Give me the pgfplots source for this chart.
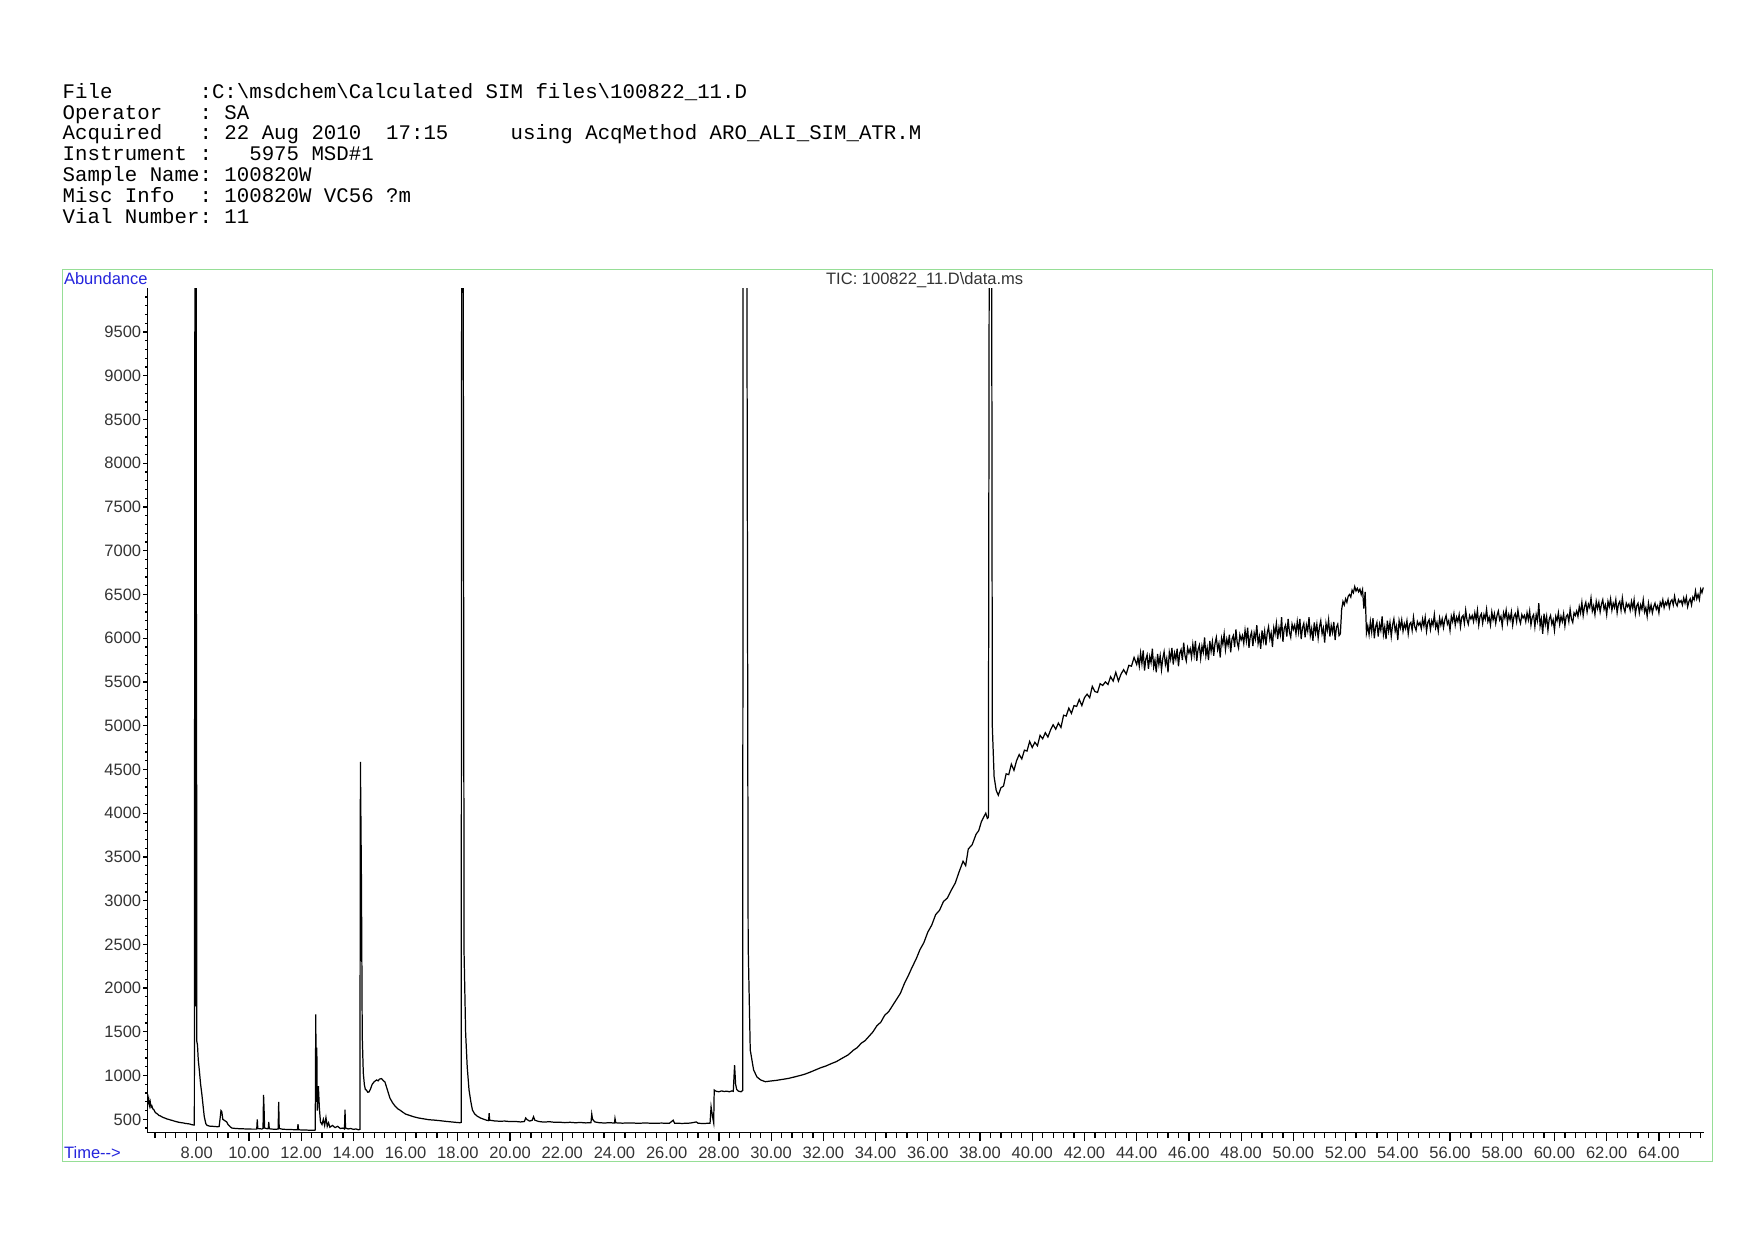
\documentclass[border=0pt]{standalone}
\usepackage{pgfplots}
\pgfplotsset{compat=1.18}
\usepackage{fontspec}
\setmainfont{Liberation Sans}
\newfontfamily\hdr{Liberation Mono}
\definecolor{frame}{RGB}{150,222,150}
\definecolor{lblue}{RGB}{35,35,220}
\begin{document}
\begin{tikzpicture}
\path[use as bounding box] (0,0) rectangle (17.54,12.40);
% header
\begin{scope}[every node/.style={anchor=base west,inner sep=0pt,font=\hdr\fontsize{5.9}{6}\selectfont}]
\node at (0.62,11.417) {File~~~~~~~:C:\textbackslash msdchem\textbackslash Calculated~SIM~files\textbackslash 100822\_11.D};
\node at (0.62,11.209) {Operator~~~:~SA};
\node at (0.62,11.000) {Acquired~~~:~22~Aug~2010~~17:15~~~~~using~AcqMethod~ARO\_ALI\_SIM\_ATR.M};
\node at (0.62,10.792) {Instrument~:~~~5975~MSD\#1};
\node at (0.62,10.584) {Sample~Name:~100820W};
\node at (0.62,10.375) {Misc~Info~~:~100820W~VC56~?m};
\node at (0.62,10.167) {Vial~Number:~11};
\end{scope}
\draw[frame, line width=0.45pt] (0.625,0.785) rectangle (17.125,9.705);
\node[anchor=base west,inner sep=0pt,text=lblue,font=\fontsize{4.7}{5}\selectfont] at (0.633,9.56) {Abundance};
\node[anchor=base,inner sep=0pt,text=black!80,font=\fontsize{4.7}{5}\selectfont] at (9.247,9.56) {TIC: 100822\_11.D\textbackslash data.ms};
\node[anchor=base west,inner sep=0pt,text=lblue,font=\fontsize{4.7}{5}\selectfont] at (0.634,0.82) {Time-{}-{}>};
\begin{axis}[
  at={(1.473cm,1.073cm)}, anchor=south west,
  scale only axis, width=15.565cm, height=8.444cm,
  xmin=6.108, xmax=65.72, ymin=347, ymax=10000,
  axis x line*=bottom, axis y line*=left,
  axis line style={-, line width=0.4pt, black},
  tick align=outside,
  major tick length=0.84mm, minor tick length=0.54mm,
  xtick={8,10,...,64},
  minor xtick={6.4,6.8,...,65.6},
  ytick={500,1000,...,9500},
  minor ytick={400,500,...,9900},
  xtick style={line width=0.35pt, black},
  ytick style={line width=0.35pt, black, /pgfplots/major tick length=0.4mm, /pgfplots/minor tick length=0.2mm},
  scaled y ticks=false, scaled x ticks=false,
  /pgf/number format/assume math mode=true,
  xticklabel style={/pgf/number format/fixed, /pgf/number format/fixed zerofill, /pgf/number format/precision=2, inner sep=1.4pt},
  yticklabel style={/pgf/number format/1000 sep={}, inner sep=0.4pt, xshift=0.44mm},
  tick label style={font=\fontsize{4.7}{5}\selectfont, text=black!80},
]
\addplot[black, line width=0.35pt] table {
t v
6.11 720
6.13 690
6.16 740
6.19 660
6.22 700
6.25 640
6.28 655
6.32 620
6.36 610
6.40 585
6.45 570
6.50 560
6.55 545
6.60 540
6.66 530
6.72 520
6.78 515
6.85 505
6.92 500
7.00 492
7.08 486
7.16 478
7.24 472
7.32 466
7.40 462
7.50 458
7.58 452
7.66 450
7.74 446
7.80 440
7.86 436
7.91 435
7.935 12000
7.955 1790
7.975 12000
7.99 5300
7.995 5250
8.005 1390
8.03 1350
8.06 1180
8.10 1063
8.15 900
8.20 780
8.25 640
8.29 530
8.35 450
8.40 430
8.50 422
8.60 420
8.70 418
8.80 415
8.86 418
8.90 520
8.93 600
8.96 590
9.00 500
9.05 490
9.10 480
9.15 470
9.20 440
9.28 415
9.35 400
9.50 395
9.70 392
9.90 390
10.10 388
10.28 388
10.30 390
10.32 500
10.34 395
10.40 392
10.50 390
10.54 395
10.56 780
10.58 620
10.60 400
10.70 392
10.74 395
10.76 470
10.78 392
10.90 388
11.05 386
11.12 390
11.14 700
11.16 395
11.30 386
11.50 384
11.70 382
11.86 380
11.88 445
11.90 380
12.10 378
12.30 376
12.50 374
12.54 378
12.56 1700
12.58 700
12.60 1320
12.62 600
12.66 880
12.70 620
12.74 470
12.80 440
12.85 500
12.90 430
12.95 520
13.00 420
13.05 460
13.10 410
13.20 430
13.30 405
13.40 420
13.50 395
13.60 400
13.66 390
13.68 610
13.70 400
13.80 390
13.90 395
14.00 385
14.10 390
14.20 380
14.25 385
14.27 4585
14.31 3200
14.34 1450
14.38 1030
14.42 900
14.46 840
14.50 835
14.55 810
14.60 812
14.66 850
14.72 900
14.80 930
14.89 950
14.95 940
15.00 960
15.08 965
15.14 945
15.21 926
15.30 840
15.40 743
15.50 690
15.60 650
15.70 620
15.78 606
15.90 580
16.00 560
16.15 545
16.30 530
16.50 515
16.70 505
16.90 495
17.06 492
17.30 485
17.50 478
17.70 472
17.90 466
18.08 461
18.13 465
18.15 12000
18.20 12000
18.24 2400
18.30 1485
18.36 1100
18.43 835
18.50 700
18.56 606
18.65 560
18.75 535
18.87 515
19.00 500
19.10 490
19.18 485
19.20 570
19.22 490
19.40 482
19.60 478
19.80 480
20.00 474
20.20 476
20.40 470
20.55 475
20.60 515
20.66 495
20.75 480
20.85 490
20.90 530
20.95 490
21.10 475
21.30 468
21.50 473
21.70 466
21.90 467
22.10 462
22.30 466
22.50 461
22.70 464
22.90 459
23.10 462
23.13 560
23.16 500
23.25 470
23.40 462
23.60 458
23.80 461
24.00 458
24.02 510
24.05 460
24.30 456
24.60 459
24.90 455
25.20 458
25.50 454
25.80 457
26.10 454
26.25 490
26.30 456
26.60 453
26.90 457
27.14 470
27.20 455
27.40 452
27.60 455
27.66 455
27.70 644
27.75 540
27.80 460
27.82 835
27.90 820
28.00 815
28.10 825
28.20 818
28.30 822
28.40 815
28.50 825
28.55 820
28.60 1120
28.64 900
28.68 843
28.75 822
28.85 815
28.91 830
28.93 12000
29.06 12000
29.12 2500
29.20 1292
29.33 1063
29.46 983
29.60 950
29.78 930
29.90 935
30.04 940
30.20 945
30.40 955
30.67 968
30.90 985
31.10 1000
31.31 1018
31.50 1040
31.70 1065
31.90 1090
32.10 1110
32.33 1140
32.50 1160
32.70 1195
32.94 1235
33.00 1250
33.15 1290
33.30 1320
33.45 1370
33.60 1400
33.75 1450
33.90 1500
34.05 1570
34.20 1610
34.35 1690
34.50 1730
34.65 1800
34.80 1870
34.95 1940
35.10 2050
35.25 2140
35.40 2240
35.55 2330
35.70 2440
35.85 2520
36.00 2640
36.15 2720
36.30 2840
36.45 2890
36.60 2990
36.75 3030
36.90 3120
37.05 3200
37.20 3330
37.35 3450
37.45 3400
37.55 3590
37.70 3640
37.85 3760
37.95 3800
38.05 3900
38.15 3960
38.22 4000
38.28 3940
38.32 3950
38.36 12000
38.44 12000
38.47 5000
38.54 4415
38.62 4260
38.70 4205
38.8 4290
38.9 4310
39.0 4450
39.1 4440
39.2 4560
39.3 4490
39.4 4600
39.5 4670
39.6 4620
39.7 4720
39.8 4710
39.9 4820
40.0 4750
40.1 4810
40.2 4770
40.3 4890
40.4 4850
40.5 4920
40.6 4870
40.7 4950
40.8 5010
40.9 4960
41.0 5030
41.1 4980
41.2 5120
41.3 5110
41.4 5200
41.5 5140
41.6 5230
41.7 5220
41.8 5300
41.9 5230
42.0 5320
42.1 5360
42.2 5320
42.3 5450
42.4 5390
42.5 5380
42.6 5480
42.7 5460
42.8 5500
42.9 5470
43.0 5560
43.1 5510
43.2 5610
43.3 5510
43.4 5590
43.5 5640
43.6 5590
43.7 5690
43.8 5680
43.9 5780
44.0 5700
44.05 5780
44.10 5680
44.15 5830
44.20 5710
44.25 5860
44.30 5630
44.35 5760
44.40 5810
44.45 5650
44.50 5790
44.55 5720
44.60 5880
44.65 5670
44.70 5750
44.75 5610
44.80 5820
44.85 5700
44.90 5800
44.95 5640
45.00 5770
45.05 5845
45.10 5700
45.15 5770
45.20 5610
45.25 5840
45.30 5760
45.35 5890
45.40 5700
45.45 5830
45.50 5760
45.55 5880
45.60 5680
45.65 5830
45.70 5870
45.75 5750
45.80 5950
45.85 5800
45.90 5740
45.95 5890
46.00 5830
46.05 5880
46.10 5780
46.15 5930
46.20 5810
46.25 5970
46.30 5740
46.35 5870
46.40 5920
46.45 5770
46.50 5910
46.55 5840
46.60 6010
46.65 5800
46.70 5890
46.75 5750
46.80 5970
46.85 5850
46.90 5960
46.95 5800
47.00 5940
47.05 6010
47.10 5870
47.15 5940
47.20 5780
47.25 6000
47.30 5930
47.35 6050
47.40 5870
47.45 5990
47.50 5920
47.55 6040
47.60 5840
47.65 5990
47.70 6030
47.75 5900
47.80 6100
47.85 5950
47.90 5890
47.95 6040
48.00 5980
48.05 6030
48.10 5940
48.15 6090
48.20 5970
48.25 6120
48.30 5890
48.35 6020
48.40 6070
48.45 5910
48.50 6060
48.55 5990
48.60 6150
48.65 5940
48.70 6020
48.75 5880
48.80 6090
48.85 5970
48.90 6080
48.95 5920
49.00 6060
49.05 6130
49.10 5990
49.15 6060
49.20 5900
49.25 6120
49.30 6050
49.35 6170
49.40 5990
49.45 6120
49.50 6040
49.55 6240
49.60 5960
49.65 6110
49.70 6150
49.75 6020
49.80 6220
49.85 6070
49.90 6010
49.95 6160
50.00 6100
50.05 6150
50.10 6050
50.15 6190
50.20 6070
50.25 6220
50.30 5990
50.35 6120
50.40 6170
50.45 6010
50.50 6150
50.55 6080
50.60 6240
50.65 6030
50.70 6110
50.75 5970
50.80 6180
50.85 6060
50.90 6160
50.95 6000
51.00 6130
51.05 6200
51.10 6050
51.15 6115
51.20 5950
51.25 6170
51.30 6090
51.35 6210
51.40 6020
51.45 6145
51.50 6065
51.55 6185
51.60 5980
51.65 6125
51.70 6160
51.75 6030
51.80 6050
51.85 6330
51.90 6420
51.95 6380
52.00 6450
52.05 6410
52.10 6480
52.15 6500
52.20 6470
52.25 6550
52.30 6520
52.35 6590
52.40 6540
52.45 6570
52.50 6530
52.55 6560
52.60 6500
52.65 6555
52.70 6340
52.75 6530
52.80 6060
52.85 6140
52.90 6040
52.95 6190
53.00 6070
53.05 6230
53.10 6000
53.15 6130
53.20 6180
53.25 6020
53.30 6160
53.35 6090
53.40 6250
53.45 6040
53.50 6130
53.55 5990
53.60 6200
53.65 6080
53.70 6180
53.75 6020
53.80 6150
53.85 6220
53.90 6080
53.95 6140
54.00 5980
54.05 6200
54.10 6120
54.15 6210
54.20 6080
54.25 6165
54.30 6110
54.35 6200
54.40 6050
54.45 6160
54.50 6180
54.55 6090
54.60 6240
54.65 6130
54.70 6090
54.75 6190
54.80 6150
54.85 6180
54.90 6110
54.95 6220
55.00 6140
55.05 6240
55.10 6080
55.15 6180
55.20 6210
55.25 6100
55.30 6200
55.35 6150
55.40 6270
55.45 6120
55.50 6180
55.55 6080
55.60 6230
55.65 6150
55.70 6220
55.75 6120
55.80 6210
55.85 6260
55.90 6160
55.95 6200
56.00 6090
56.05 6250
56.10 6190
56.15 6280
56.20 6150
56.25 6240
56.30 6190
56.35 6270
56.40 6130
56.45 6240
56.50 6260
56.55 6170
56.60 6320
56.65 6210
56.70 6160
56.75 6260
56.80 6220
56.85 6260
56.90 6190
56.95 6290
57.00 6210
57.05 6320
57.10 6150
57.15 6250
57.20 6280
57.25 6170
57.30 6270
57.35 6220
57.40 6330
57.45 6190
57.50 6240
57.55 6150
57.60 6300
57.65 6210
57.70 6280
57.75 6170
57.80 6260
57.85 6310
57.90 6210
57.95 6250
58.00 6140
58.05 6290
58.10 6230
58.15 6320
58.20 6180
58.25 6270
58.30 6210
58.35 6300
58.40 6150
58.45 6250
58.50 6280
58.55 6190
58.60 6320
58.65 6220
58.70 6170
58.75 6270
58.80 6230
58.85 6260
58.90 6190
58.95 6290
59.00 6210
59.05 6310
59.10 6150
59.15 6240
59.20 6270
59.25 6130
59.30 6270
59.35 6200
59.40 6400
59.45 6140
59.50 6220
59.55 6050
59.60 6280
59.65 6160
59.70 6250
59.75 6090
59.80 6220
59.85 6260
59.90 6160
59.95 6210
60.00 6090
60.05 6250
60.10 6200
60.15 6290
60.20 6160
60.25 6250
60.30 6190
60.35 6280
60.40 6140
60.45 6250
60.50 6270
60.55 6190
60.60 6330
60.65 6220
60.70 6180
60.75 6290
60.80 6260
60.85 6310
60.90 6250
60.95 6360
61.00 6290
61.05 6410
61.10 6260
61.15 6360
61.20 6410
61.25 6300
61.30 6390
61.35 6350
61.40 6460
61.45 6310
61.50 6370
61.55 6270
61.60 6420
61.65 6340
61.70 6410
61.75 6300
61.80 6390
61.85 6440
61.90 6330
61.95 6380
62.00 6270
62.05 6420
62.10 6360
62.15 6450
62.20 6320
62.25 6400
62.30 6350
62.35 6440
62.40 6290
62.45 6390
62.50 6420
62.55 6320
62.60 6460
62.65 6350
62.70 6300
62.75 6400
62.80 6360
62.85 6390
62.90 6320
62.95 6420
63.00 6340
63.05 6440
63.10 6280
63.15 6370
63.20 6400
63.25 6290
63.30 6380
63.35 6330
63.40 6440
63.45 6300
63.50 6350
63.55 6250
63.60 6400
63.65 6310
63.70 6380
63.75 6290
63.80 6360
63.85 6400
63.90 6330
63.95 6370
64.00 6290
64.05 6410
64.10 6370
64.15 6440
64.20 6350
64.25 6410
64.30 6380
64.35 6440
64.40 6350
64.45 6420
64.50 6440
64.55 6380
64.60 6480
64.65 6400
64.70 6370
64.75 6440
64.80 6410
64.85 6430
64.90 6380
64.95 6460
65.00 6400
65.05 6470
65.10 6360
65.15 6420
65.20 6450
65.25 6380
65.30 6470
65.35 6440
65.40 6540
65.45 6450
65.50 6500
65.55 6440
65.60 6560
65.65 6520
65.70 6580
};
\end{axis}
\end{tikzpicture}
\end{document}
